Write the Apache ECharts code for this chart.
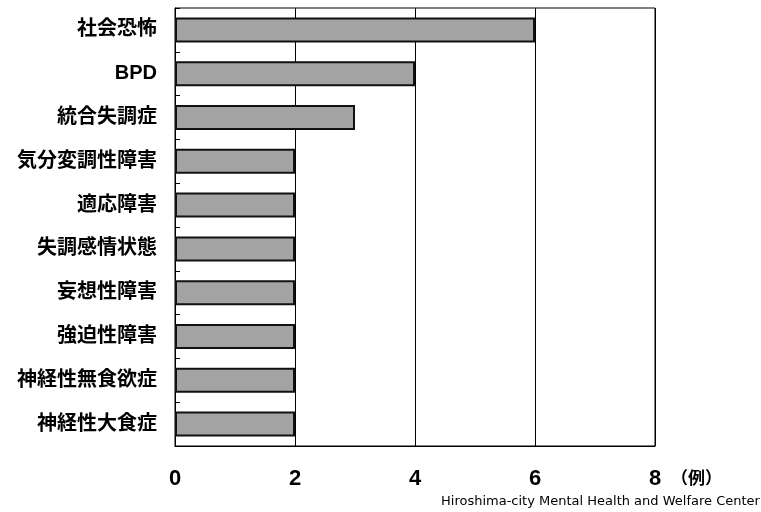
<!DOCTYPE html>
<html>
<head>
<meta charset="utf-8">
<script src="https://cdn.jsdelivr.net/npm/echarts@6/dist/echarts.min.js"></script>
<style>
  html, body { margin: 0; padding: 0; background: #fff; }
  #chart { width: 761px; height: 512px; }
</style>
</head>
<body>
<div id="chart"></div>
<script>
var categories = ['社会恐怖', 'BPD', '統合失調症', '気分変調性障害', '適応障害',
                  '失調感情状態', '妄想性障害', '強迫性障害', '神経性無食欲症', '神経性大食症'];
var counts = [6, 4, 3, 2, 2, 2, 2, 2, 2, 2];
var xTicks = [0, 2, 4, 6, 8];

var myChart = echarts.init(document.getElementById('chart'));
var option = {
    animation: false,
    grid: { left: 175, top: 8, width: 480, height: 438, show: true, borderColor: '#000', borderWidth: 1 },
    xAxis: {
        type: 'value',
        min: 0,
        max: 8,
        interval: 2,
        axisLine: { show: true, lineStyle: { color: '#000', width: 1 } },
        axisTick: { show: false },
        splitLine: { show: true, lineStyle: { color: '#000', width: 1 } },
        axisLabel: {
            margin: 22,
            color: '#000',
            fontSize: 22,
            fontWeight: 'bold',
            fontFamily: 'Liberation Sans, Arial, sans-serif',
            formatter: function (v) { return xTicks.indexOf(v) >= 0 ? String(v) : ''; }
        }
    },
    yAxis: {
        type: 'category',
        inverse: true,
        data: categories,
        axisLine: { show: true, lineStyle: { color: '#000' } },
        axisTick: { show: true, inside: true, length: 5, lineStyle: { color: '#000' } },
        axisLabel: {
            margin: 18,
            color: '#000',
            fontSize: 20,
            fontWeight: 'bold',
            fontFamily: 'Liberation Sans, Noto Sans CJK JP, sans-serif'
        }
    },
    series: [{
        type: 'bar',
        data: counts,
        barCategoryGap: '43%',
        itemStyle: { color: '#a3a3a3', borderColor: '#111', borderWidth: 2 }
    }],
    graphic: [
        {
            type: 'text', left: 671, top: 469,
            style: { text: '（例）', fontSize: 17, fontWeight: 'bold', fill: '#000', fontFamily: 'Noto Sans CJK JP' }
        },
        {
            type: 'text', left: 441, top: 495,
            style: { text: 'Hiroshima-city Mental Health and Welfare Center', fontSize: 13, fill: '#000', fontFamily: 'DejaVu Sans' }
        }
    ]
};
myChart.setOption(option);
</script>
</body>
</html>
